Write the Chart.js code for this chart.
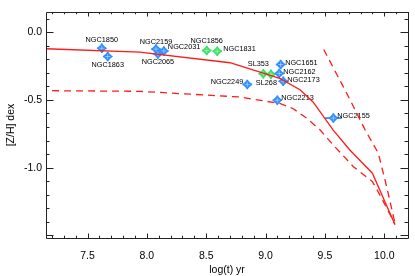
<!DOCTYPE html>
<html><head><meta charset="utf-8">
<script src="https://cdn.jsdelivr.net/npm/chart.js@4/dist/chart.umd.min.js"></script>
<style>html,body{margin:0;padding:0;background:#fff}#wrap{width:415px;height:276px}</style>
</head><body><div id="wrap"><canvas id="c" width="415" height="276"></canvas></div>
<script>
// ---- data ----
const solidLogAge = [7.10, 7.94, 8.70, 9.12, 9.29, 9.40, 9.57, 9.71, 9.90, 10.09];
const solidZH     = [-0.12, -0.147, -0.225, -0.34, -0.424, -0.515, -0.723, -0.87, -1.041, -1.42];
const lowLogAge   = [7.10, 7.94, 8.78, 9.12, 9.23, 9.35, 9.46, 9.57, 9.74, 9.90, 9.97, 10.05, 10.09];
const lowZH       = [-0.431, -0.436, -0.478, -0.526, -0.563, -0.637, -0.722, -0.833, -0.993, -1.103, -1.213, -1.348, -1.42];
const upLogAge    = [9.49, 9.70, 9.84, 9.95, 10.02, 10.09];
const upZH        = [-0.127, -0.478, -0.723, -0.894, -1.14, -1.41];

const blueNames  = ['NGC1850','NGC1863','NGC2159','NGC2065','NGC2031','NGC1651','NGC2162','NGC2173','NGC2249','NGC2213','NGC2155'];
const blueLogAge = [7.62, 7.67, 8.077, 8.093, 8.143, 9.127, 9.115, 9.149, 8.846, 9.099, 9.571];
const blueZH     = [-0.118, -0.179, -0.124, -0.160, -0.138, -0.238, -0.304, -0.362, -0.385, -0.502, -0.634];
const blueAgeErr = [0.04, 0.04, 0.04, 0.04, 0.04, 0.04, 0.04, 0.04, 0.04, 0.04, 0.07];
const blueZHErr  = [0.035, 0.035, 0.035, 0.035, 0.035, 0.035, 0.035, 0.035, 0.035, 0.035, 0.035];

const greenNames  = ['NGC1856','NGC1831','SL353','SL268'];
const greenLogAge = [8.504, 8.593, 8.981, 9.045];
const greenZH     = [-0.135, -0.140, -0.306, -0.310];
const greenAgeErr = [0.04, 0.04, 0.04, 0.04];
const greenZHErr  = [0.035, 0.035, 0.035, 0.035];

const xTickValues = [7.5, 8.0, 8.5, 9.0, 9.5, 10.0];
const xTickLabels = ['7.5', '8.0', '8.5', '9.0', '9.5', '10.0'];
const yTickValues = [0.0, -0.5, -1.0];
const yTickLabels = ['0.0', '-0.5', '-1.0'];

// ---- styling (label placement in px relative to marker) ----
const labelPlace = {
  NGC1850:{dx:0,dy:-8,a:'center'}, NGC1863:{dx:0,dy:8,a:'center'},
  NGC2159:{dx:0,dy:-7,a:'center'}, NGC2065:{dx:0,dy:8.5,a:'center'},
  NGC2031:{dx:4,dy:-3.5,a:'left'}, NGC1651:{dx:4.5,dy:-1.5,a:'left'},
  NGC2162:{dx:4,dy:-1,a:'left'},   NGC2173:{dx:4,dy:-1.5,a:'left'},
  NGC2249:{dx:-4,dy:-2.5,a:'right'}, NGC2213:{dx:4,dy:-2,a:'left'},
  NGC2155:{dx:4,dy:-2.3,a:'left'},
  NGC1856:{dx:0,dy:-10,a:'center'}, NGC1831:{dx:6,dy:-2.3,a:'left'},
  SL353:{dx:-5,dy:-9.3,a:'center'}, SL268:{dx:-4.5,dy:8.7,a:'center'}
};
const RED = '#ff1a1a', BLUE = '#2a8cff', GREEN = '#33e35f';
const FONT = '"Liberation Sans", Arial, Helvetica, sans-serif';

const pts = (xs, ys) => xs.map((x, i) => ({x: x, y: ys[i]}));

const frameTicks = {
  id: 'frameTicks',
  afterDatasetsDraw(chart) {
    const {ctx, chartArea: a, scales: {x, y}} = chart;
    ctx.save();
    ctx.strokeStyle = '#222'; ctx.lineWidth = 1;
    ctx.beginPath();
    ctx.rect(Math.round(a.left) + 0.5, Math.round(a.top) + 0.5, Math.round(a.right - a.left), Math.round(a.bottom - a.top));
    ctx.stroke();
    ctx.beginPath();
    for (let k = 72; k <= 102; k++) {
      const v = k / 10; if (v < x.min || v > x.max) continue;
      const px = Math.round(x.getPixelForValue(v)) + 0.5;
      const L = (k % 5 === 0) ? 4.5 : 2.3;
      ctx.moveTo(px, a.bottom); ctx.lineTo(px, a.bottom - L);
      ctx.moveTo(px, a.top); ctx.lineTo(px, a.top + L);
    }
    for (let k = -15; k <= 1; k++) {
      const v = k / 10;
      const py = Math.round(y.getPixelForValue(v)) + 0.5;
      const L = (k % 5 === 0) ? 7.5 : 3.5;
      ctx.moveTo(a.left, py); ctx.lineTo(a.left + L, py);
      ctx.moveTo(a.right, py); ctx.lineTo(a.right - L, py);
    }
    ctx.stroke();
    ctx.restore();
  }
};

const errLabels = {
  id: 'errLabels',
  beforeDatasetDraw(chart, args) {
    const ds = chart.data.datasets[args.index];
    if (!ds.ageErr) return;
    const {ctx, scales: {x, y}} = chart;
    ctx.save();
    ctx.strokeStyle = ds.backgroundColor; ctx.lineWidth = 1.6;
    ds.data.forEach((p, i) => {
      const cx = x.getPixelForValue(p.x), cy = y.getPixelForValue(p.y);
      const x0 = x.getPixelForValue(p.x - ds.ageErr[i]), x1 = x.getPixelForValue(p.x + ds.ageErr[i]);
      const y0 = y.getPixelForValue(p.y - ds.zhErr[i]), y1 = y.getPixelForValue(p.y + ds.zhErr[i]);
      ctx.beginPath();
      ctx.moveTo(x0, cy); ctx.lineTo(x1, cy);
      ctx.moveTo(cx, y0); ctx.lineTo(cx, y1);
      ctx.stroke();
    });
    ctx.restore();
  },
  afterDatasetDraw(chart, args) {
    const ds = chart.data.datasets[args.index];
    if (!ds.names) return;
    const {ctx, scales: {x, y}} = chart;
    ctx.save();
    // light inner cross
    ctx.strokeStyle = 'rgba(255,255,255,0.55)'; ctx.lineWidth = 0.8;
    ds.data.forEach((p) => {
      const cx = x.getPixelForValue(p.x), cy = y.getPixelForValue(p.y);
      ctx.beginPath();
      ctx.moveTo(cx - 2.6, cy); ctx.lineTo(cx + 2.6, cy);
      ctx.moveTo(cx, cy - 2.6); ctx.lineTo(cx, cy + 2.6);
      ctx.stroke();
    });
    ctx.fillStyle = '#000';
    ctx.font = '7.3px ' + FONT;
    ctx.textBaseline = 'middle';
    ds.data.forEach((p, i) => {
      const cx = x.getPixelForValue(p.x), cy = y.getPixelForValue(p.y);
      const lp = labelPlace[ds.names[i]] || {dx: 4, dy: 0, a: 'left'};
      ctx.textAlign = lp.a;
      ctx.fillText(ds.names[i], cx + lp.dx, cy + lp.dy);
    });
    ctx.restore();
  }
};

new Chart(document.getElementById('c'), {
  type: 'scatter',
  data: {
    datasets: [
      {data: pts(solidLogAge, solidZH), showLine: true, borderColor: RED, borderWidth: 1.3, pointRadius: 0, fill: false, tension: 0},
      {data: pts(lowLogAge, lowZH), showLine: true, borderColor: RED, borderWidth: 1.3, borderDash: [7, 5], pointRadius: 0, fill: false, tension: 0},
      {data: pts(upLogAge, upZH), showLine: true, borderColor: RED, borderWidth: 1.3, borderDash: [7, 5], pointRadius: 0, fill: false, tension: 0},
      {data: pts(blueLogAge, blueZH), names: blueNames, ageErr: blueAgeErr, zhErr: blueZHErr, pointStyle: 'rectRot', pointRadius: 4.5, backgroundColor: BLUE, borderColor: BLUE, borderWidth: 0.5, clip: false},
      {data: pts(greenLogAge, greenZH), names: greenNames, ageErr: greenAgeErr, zhErr: greenZHErr, pointStyle: 'rectRot', pointRadius: 4.5, backgroundColor: GREEN, borderColor: GREEN, borderWidth: 0.5, clip: false}
    ]
  },
  options: {
    responsive: false, animation: false, devicePixelRatio: 1,
    layout: {padding: {left: 0, right: 7, top: 12, bottom: 0}},
    plugins: {legend: {display: false}, tooltip: {enabled: false}},
    scales: {
      x: {
        type: 'linear', position: 'bottom', min: 7.15, max: 10.2,
        afterFit: s => { s.height = 38; },
        afterBuildTicks: s => { s.ticks = xTickValues.map(v => ({value: v})); },
        ticks: {padding: 12, color: '#000', font: {family: FONT, size: 10.5},
                callback: v => xTickLabels[xTickValues.indexOf(v)] ?? ''},
        grid: {display: false, drawTicks: false},
        border: {display: false},
        title: {display: true, text: 'log(t) yr', color: '#000', font: {family: FONT, size: 10.5}, padding: {top: 0, bottom: 0}}
      },
      y: {
        type: 'linear', position: 'left', min: -1.52, max: 0.15,
        afterFit: s => { s.width = 46; },
        afterBuildTicks: s => { s.ticks = yTickValues.map(v => ({value: v})); },
        ticks: {padding: 4, color: '#000', font: {family: FONT, size: 10.5},
                callback: v => yTickLabels[yTickValues.indexOf(v)] ?? ''},
        grid: {display: false, drawTicks: false},
        border: {display: false},
        title: {display: true, text: '[Z/H] dex', color: '#000', font: {family: FONT, size: 10.5}, padding: {top: 5, bottom: 0}}
      }
    }
  },
  plugins: [frameTicks, errLabels]
});
</script>
</body></html>
